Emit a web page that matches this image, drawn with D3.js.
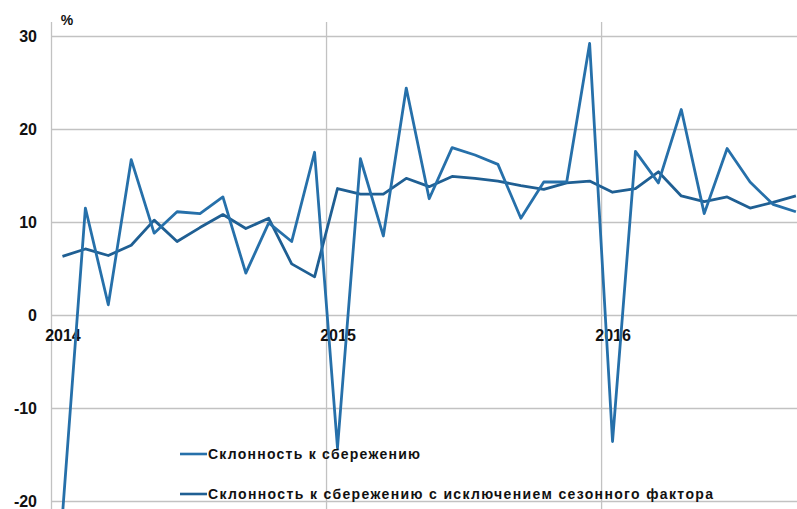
<!DOCTYPE html>
<html>
<head>
<meta charset="utf-8">
<script src="https://cdn.jsdelivr.net/npm/d3@7"></script>
<style>
  body { margin: 0; background: #fff; }
  svg { display: block; }
</style>
</head>
<body>
<div id="chart"></div>
<script>

// Chart size and the plot frame (x of the first gridline, y of top / bottom)
const width = 797;
const height = 509;
const margin = {left: 51, top: 22};
const monthWidth = 22.92;

// Months shown on the x axis (Jan 2014 .. Sep 2016)
const months = [
  "01.2014","02.2014","03.2014","04.2014","05.2014","06.2014",
  "07.2014","08.2014","09.2014","10.2014","11.2014","12.2014",
  "01.2015","02.2015","03.2015","04.2015","05.2015","06.2015",
  "07.2015","08.2015","09.2015","10.2015","11.2015","12.2015",
  "01.2016","02.2016","03.2016","04.2016","05.2016","06.2016",
  "07.2016","08.2016","09.2016"
];

// Склонность к сбережению, %
const savingRaw = [
  -21.5, 11.5, 1.1, 16.7, 8.8, 11.1, 10.9, 12.7, 4.5, 9.9, 7.9, 17.5,
  -14.3, 16.8, 8.5, 24.4, 12.5, 18.0, 17.2, 16.2, 10.4, 14.3, 14.3, 29.2,
  -13.6, 17.6, 14.2, 22.1, 10.9, 17.9, 14.3, 11.9, 11.1
];

// Склонность к сбережению с исключением сезонного фактора, %
const savingSA = [
  6.3, 7.1, 6.4, 7.5, 10.2, 7.9, 9.4, 10.8, 9.3, 10.4, 5.5, 4.1,
  13.6, 13.0, 13.0, 14.7, 13.8, 14.9, 14.7, 14.4, 13.9, 13.5, 14.2, 14.4,
  13.2, 13.6, 15.4, 12.8, 12.2, 12.7, 11.5, 12.1, 12.8
];

const seriesNames = [
  "Склонность к сбережению",
  "Склонность к сбережению с исключением сезонного фактора"
];

// Tick labels
const yTicks = [-20, -10, 0, 10, 20, 30];
const yearLabels = ["2014", "2015", "2016"];

const colorRaw = "#2670aa";
const colorSA = "#1f5f93";
const gridColor = "#c2c2c2";

const svg = d3.select("#chart")
  .append("svg")
  .attr("width", width)
  .attr("height", height)
  .attr("viewBox", [0, 0, width, height]);

/*
  Scales
*/

// one slot per month, points sit in the middle of their slot
const xScale = d3.scaleLinear()
  .domain([-0.5, 35.5])
  .range([margin.left, margin.left + 36 * monthWidth]);

const yScale = d3.scaleLinear()
  .domain([-20, 30])
  .range([501, 36]);

const plotRight = xScale(35.5);
const plotBottom = yScale(-23);

/*
  Grid
*/

// horizontal gridlines
svg.append("g")
  .attr("class", "grid")
  .attr("transform", `translate(${margin.left},0)`)
  .call(d3.axisLeft(yScale)
    .tickValues(yTicks)
    .tickSize(-(plotRight - margin.left))
    .tickFormat(""))
  .call(g => g.select(".domain").remove());

// vertical gridlines at the start of every year (first one is the y axis)
svg.append("g")
  .attr("class", "grid")
  .attr("transform", `translate(0,${plotBottom})`)
  .call(d3.axisBottom(xScale)
    .tickValues([-0.5, 11.5, 23.5])
    .tickSize(-(plotBottom - margin.top))
    .tickFormat(""))
  .call(g => g.select(".domain").remove());

svg.selectAll(".grid line")
  .attr("stroke", gridColor)
  .attr("stroke-width", 1.3);

/*
  Axis labels
*/

svg.append("g")
  .attr("transform", `translate(${margin.left},0)`)
  .call(d3.axisLeft(yScale)
    .tickValues(yTicks)
    .tickSize(0)
    .tickPadding(14)
    .tickFormat(d => String(d)))
  .call(g => g.select(".domain").remove())
  .attr("font-family", "Liberation Sans, Arial, sans-serif")
  .attr("font-size", 16)
  .attr("font-weight", "bold");

svg.append("g")
  .attr("transform", `translate(0,${yScale(0)})`)
  .call(d3.axisBottom(xScale)
    .tickValues([0, 12, 24])
    .tickSize(0)
    .tickPadding(15)
    .tickFormat(i => yearLabels[i / 12]))
  .call(g => g.select(".domain").remove())
  .attr("font-family", "Liberation Sans, Arial, sans-serif")
  .attr("font-size", 16)
  .attr("font-weight", "bold");

svg.selectAll("g text").attr("fill", "#111");

svg.append("text")
  .attr("x", 67)
  .attr("y", 25)
  .attr("text-anchor", "middle")
  .attr("font-family", "Liberation Sans, Arial, sans-serif")
  .attr("font-size", 14)
  .attr("font-weight", "bold")
  .attr("fill", "#111")
  .text("%");

/*
  Lines
*/

const line = d3.line()
  .x((d, i) => xScale(i))
  .y(d => yScale(d));

svg.append("path")
  .datum(savingSA)
  .attr("fill", "none")
  .attr("stroke", colorSA)
  .attr("stroke-width", 2.8)
  .attr("stroke-linejoin", "round")
  .attr("d", line);

svg.append("path")
  .datum(savingRaw)
  .attr("fill", "none")
  .attr("stroke", colorRaw)
  .attr("stroke-width", 2.8)
  .attr("stroke-linejoin", "round")
  .attr("d", line);

/*
  Legend
*/

const legendRows = [
  {name: seriesNames[0], color: colorRaw, y: 454, len: 212},
  {name: seriesNames[1], color: colorSA, y: 494, len: 505}
];

const legend = svg.append("g");

legend.selectAll("line")
  .data(legendRows)
  .enter()
  .append("line")
    .attr("x1", 180)
    .attr("x2", 207)
    .attr("y1", d => d.y)
    .attr("y2", d => d.y)
    .attr("stroke", d => d.color)
    .attr("stroke-width", 2.6);

legend.selectAll("text")
  .data(legendRows)
  .enter()
  .append("text")
    .attr("x", 208)
    .attr("y", d => d.y)
    .attr("dy", "0.35em")
    .attr("textLength", d => d.len)
    .attr("lengthAdjust", "spacing")
    .attr("font-family", "Liberation Sans, Arial, sans-serif")
    .attr("font-size", 14)
    .attr("font-weight", "bold")
    .attr("fill", "#111")
    .text(d => d.name);

</script>
</body>
</html>
